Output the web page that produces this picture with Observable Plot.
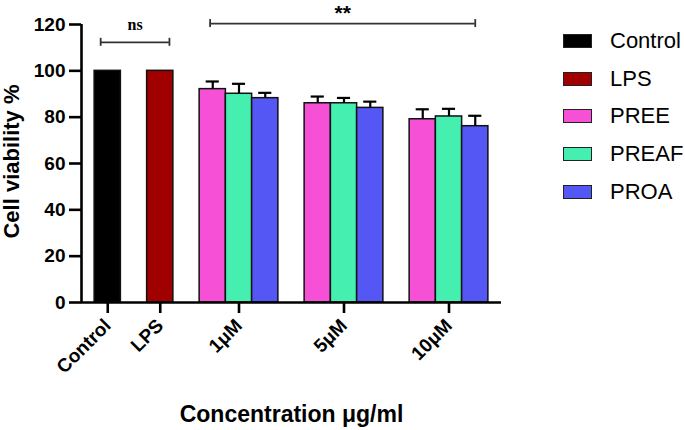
<!DOCTYPE html>
<html><head><meta charset="utf-8">
<script src="https://cdn.jsdelivr.net/npm/d3@7"></script>
<script src="https://cdn.jsdelivr.net/npm/@observablehq/plot@0.6"></script>
<style>
body{margin:0;background:#fff;font-family:"Liberation Sans",Arial,sans-serif}
#wrap{position:relative;width:685px;height:430px}
#legend{position:absolute;left:563px;top:22px}
.item{display:flex;align-items:center;height:37.8px}
.sw{width:27px;height:12px;border:1.5px solid #222;margin-right:18px}
.lab{font-size:22px;color:#000;line-height:1}
</style></head><body><div id="wrap"><div id="legend"></div></div>
<script>
// ---- data ----
const groups = ["Control", "LPS", "1μM", "5μM", "10μM"];
const series = ["Control", "LPS", "PREE", "PREAF", "PROA"];
const seriesColors = ["#000000", "#a00000", "#f550d6", "#44efb0", "#5557f5"];
const treatmentGroups = ["1μM", "5μM", "10μM"];
const controlMean = [100];
const lpsMean = [100];
const preeMean = [92.1, 86.0, 79.1];
const preeSD = [3.3, 2.9, 4.3];
const preafMean = [90.1, 86.0, 80.3];
const preafSD = [4.3, 2.3, 3.3];
const proaMean = [88.2, 84.0, 76.1];
const proaSD = [2.3, 2.7, 4.5];
const yTicks = [0, 20, 40, 60, 80, 100, 120];
// significance brackets (x in bar-slot units, y in % units)
const bracketLabels = ["ns", "**"];
const bracketX1 = [-0.27, 3.9];
const bracketX2 = [2.35, 14];
const bracketY = [112.3, 120.4];
const bracketLabelY = [119.9, 124.9];

// ---- build table ----
const rows = [];
rows.push({group: "Control", series: "Control", mean: controlMean[0], sd: null});
rows.push({group: "LPS", series: "LPS", mean: lpsMean[0], sd: null});
treatmentGroups.forEach((g, i) => {
  rows.push({group: g, series: "PREE", mean: preeMean[i], sd: preeSD[i]});
  rows.push({group: g, series: "PREAF", mean: preafMean[i], sd: preafSD[i]});
  rows.push({group: g, series: "PROA", mean: proaMean[i], sd: proaSD[i]});
});
// assign slots: bars adjacent within a group, one empty slot between groups
let slot = 0;
const groupCenter = new Map();
groups.forEach(g => {
  const rs = rows.filter(r => r.group === g);
  rs.forEach(r => { r.slot = slot++; });
  groupCenter.set(g, d3.mean(rs, r => r.slot));
  slot++;
});
const tickPos = groups.map(g => groupCenter.get(g));
const labelAt = new Map(groups.map(g => [groupCenter.get(g), g]));
const errRows = rows.filter(r => r.sd != null);
const brackets = bracketLabels.map((l, i) => ({label: l, x1: bracketX1[i], x2: bracketX2[i], y: bracketY[i], ly: bracketLabelY[i]}));

const plot = Plot.plot({
  width: 685, height: 430,
  marginLeft: 81, marginRight: 184, marginTop: 24, marginBottom: 128,
  style: {fontFamily: "'Liberation Sans', Arial, sans-serif", fontSize: "19px", fontWeight: "bold", color: "#000", background: "transparent", overflow: "visible"},
  x: {domain: [-1, slot - 1]},
  y: {domain: [0, 120]},
  color: {domain: series, range: seriesColors},
  marks: [
    Plot.rectY(rows, {x1: d => d.slot - 0.5, x2: d => d.slot + 0.5, y: "mean", fill: "series", stroke: "#111", strokeWidth: 1.5}),
    Plot.ruleX(errRows, {x: "slot", y1: "mean", y2: d => d.mean + d.sd, stroke: "#000", strokeWidth: 2.2}),
    Plot.ruleY(errRows, {x1: d => d.slot - 0.25, x2: d => d.slot + 0.25, y: d => d.mean + d.sd, stroke: "#000", strokeWidth: 2.2}),
    Plot.ruleY([0], {stroke: "#000", strokeWidth: 2.6}),
    Plot.ruleX([-1], {y1: 0, y2: 120, stroke: "#000", strokeWidth: 2.6}),
    Plot.axisY(yTicks, {tickSize: 12, tickPadding: 4, strokeWidth: 2.6, label: null}),
    Plot.axisX(tickPos, {tickFormat: d => labelAt.get(d), tickRotate: -45, tickSize: 11, tickPadding: 9, strokeWidth: 2.6, label: null}),
    Plot.text(["Cell viability %"], {frameAnchor: "left", textAnchor: "middle", rotate: -90, dx: -70, dy: -2, fontSize: 22, fontWeight: "bold"}),
    Plot.text(["Concentration μg/ml"], {frameAnchor: "bottom", lineAnchor: "middle", dy: 112, fontSize: 23, fontWeight: "bold"}),
    // brackets
    Plot.ruleY(brackets, {x1: "x1", x2: "x2", y: "y", stroke: "#333", strokeWidth: 1.8}),
    Plot.ruleX(brackets, {x: "x1", y1: "y", y2: "y", insetTop: -4, insetBottom: -4, stroke: "#333", strokeWidth: 1.8}),
    Plot.ruleX(brackets, {x: "x2", y1: "y", y2: "y", insetTop: -4, insetBottom: -4, stroke: "#333", strokeWidth: 1.8}),
    Plot.text(brackets.filter(b => b.label === "ns"), {x: d => (d.x1 + d.x2) / 2, y: "ly", text: "label", fontFamily: "'Liberation Serif', 'Times New Roman', serif", fontWeight: "bold", fontSize: 16}),
    Plot.text(brackets.filter(b => b.label !== "ns"), {x: d => (d.x1 + d.x2) / 2, y: "ly", text: "label", fontWeight: "bold", fontSize: 21})
  ]
});
const wrap = document.getElementById("wrap");
wrap.insertBefore(plot, wrap.firstChild);

const legend = document.getElementById("legend");
series.forEach((s, i) => {
  const item = document.createElement("div");
  item.className = "item";
  const sw = document.createElement("div");
  sw.className = "sw";
  sw.style.background = seriesColors[i];
  const lab = document.createElement("span");
  lab.className = "lab";
  lab.textContent = s;
  item.appendChild(sw); item.appendChild(lab);
  legend.appendChild(item);
});
</script></body></html>
